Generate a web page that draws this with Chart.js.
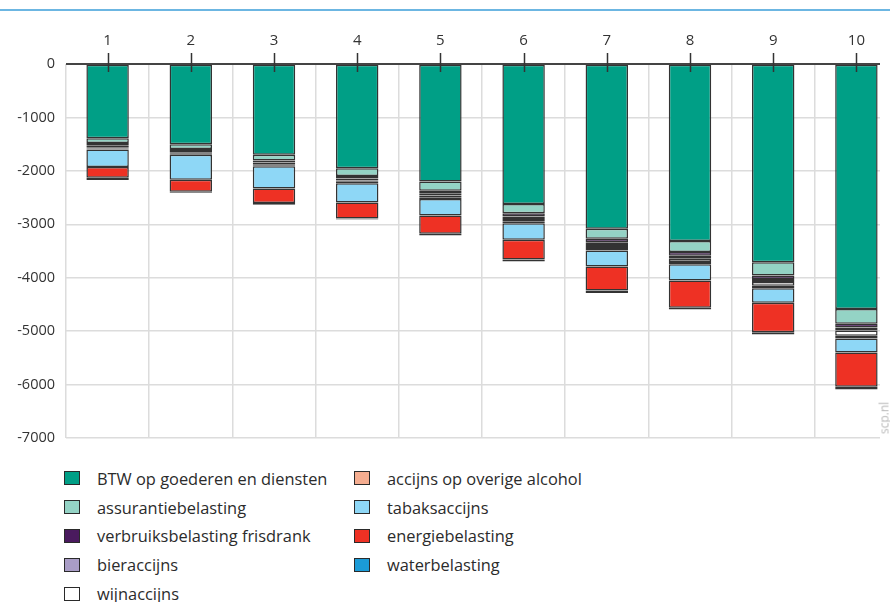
<!DOCTYPE html>
<html>
<head>
<meta charset="utf-8">
<script src="https://cdn.jsdelivr.net/npm/chart.js@4"></script>
<style>
  html, body { margin: 0; padding: 0; background: #fff; overflow: hidden; }
  #wrap { position: relative; width: 890px; height: 602px; overflow: hidden; }
  #topline { position: absolute; left: 0; top: 9px; width: 890px; height: 2px; background: #6cb6e2; }
  #plot { position: absolute; left: 0; top: 0; width: 880px; height: 460px; overflow: hidden; }
  #chart { position: absolute; left: 0; top: 0; }
  #source {
    position: absolute; left: 884px; top: 418px;
    transform: translate(-50%, -50%) rotate(-90deg);
    font: 12px 'Open Sans', sans-serif; color: #b8b8b8; white-space: nowrap;
  }
  #legend {
    position: absolute; left: 64px; top: 464px;
    display: grid; grid-template-rows: repeat(5, 28.8px); grid-auto-flow: column;
    grid-template-columns: 290px auto;
    font-family: 'Open Sans', sans-serif; font-size: 16.4px; color: #2b2b2b;
  }
  .item { display: flex; align-items: center; }
  .box { width: 16px; height: 14px; border: 1.5px solid #2a2a2a; margin-right: 17px; box-sizing: border-box; }
</style>
</head>
<body>
<div id="wrap">
  <div id="topline"></div>
  <div id="plot"><canvas id="chart" width="900" height="460"></canvas></div>
  <div id="source">scp.nl</div>
  <div id="legend"></div>
</div>
<script>
const categories = ['1', '2', '3', '4', '5', '6', '7', '8', '9', '10'];
const btw        = [-1390, -1500, -1700, -1950, -2200, -2620, -3085, -3315, -3710, -4585];
const assurantie = [-90, -90, -105, -145, -170, -175, -185, -205, -250, -275];
const frisdrank  = [-50, -40, -40, -50, -50, -60, -65, -70, -65, -70];
const bier       = [-30, -30, -30, -35, -40, -45, -55, -55, -55, -60];
const wijn       = [-20, -20, -20, -25, -35, -45, -55, -60, -70, -95];
const alcohol    = [-20, -20, -20, -25, -30, -35, -45, -45, -45, -55];
const tabak      = [-330, -465, -415, -360, -310, -310, -300, -300, -275, -260];
const energie    = [-200, -225, -270, -300, -340, -370, -450, -510, -550, -640];
const water      = [-40, -20, -35, -20, -35, -35, -45, -35, -45, -50];

const series = [
  ['BTW op goederen en diensten', btw, '#009f86'],
  ['assurantiebelasting', assurantie, '#94d3c5'],
  ['verbruiksbelasting frisdrank', frisdrank, '#4a1a5e'],
  ['bieraccijns', bier, '#a99dc6'],
  ['wijnaccijns', wijn, '#ffffff'],
  ['accijns op overige alcohol', alcohol, '#f5ad90'],
  ['tabaksaccijns', tabak, '#8ed7f6'],
  ['energiebelasting', energie, '#ee3124'],
  ['waterbelasting', water, '#1b9bd7']
];

const FONT = "'Open Sans', sans-serif";

// zero line and the tick marks at the bar centres, drawn over the bars
const extras = {
  id: 'extras',
  afterDatasetsDraw(chart) {
    const ctx = chart.ctx;
    const x = chart.scales.x, y = chart.scales.y;
    const y0 = y.getPixelForValue(0);
    ctx.save();
    ctx.strokeStyle = '#444';
    ctx.lineWidth = 2;
    ctx.beginPath();
    ctx.moveTo(chart.chartArea.left, y0);
    ctx.lineTo(chart.chartArea.right, y0);
    ctx.stroke();
    ctx.lineWidth = 1.5;
    ctx.strokeStyle = '#333';
    categories.forEach((c, i) => {
      const px = Math.round(x.getPixelForValue(i)) + 0.5;
      ctx.beginPath();
      ctx.moveTo(px, y0 - 11);
      ctx.lineTo(px, y0 + 8);
      ctx.stroke();
    });
    ctx.restore();
  }
};

new Chart(document.getElementById('chart'), {
  type: 'bar',
  data: {
    labels: categories,
    datasets: series.map(s => ({
      label: s[0],
      data: s[1],
      backgroundColor: s[2],
      borderColor: '#333',
      borderWidth: 1.5,
      borderSkipped: false,
      categoryPercentage: 1,
      barPercentage: 0.51
    }))
  },
  options: {
    responsive: false,
    animation: false,
    layout: { padding: { left: 0, right: 2, top: 18, bottom: 22 } },
    plugins: { legend: { display: false }, tooltip: { enabled: true } },
    scales: {
      x: {
        position: 'top',
        stacked: true,
        grid: { offset: true, color: '#dcdcdc', lineWidth: 1.5, drawTicks: false },
        border: { display: false },
        ticks: { color: '#333', font: { family: FONT, size: 15 }, padding: 14 }
      },
      y: {
        stacked: true,
        min: -7000,
        max: 0,
        afterFit(scale) { scale.width = 66; },
        grid: { color: '#dcdcdc', lineWidth: 1.5, drawTicks: false },
        border: { display: false },
        ticks: {
          stepSize: 1000,
          color: '#333',
          font: { family: FONT, size: 14.5 },
          padding: 11,
          callback: v => String(v)
        }
      }
    }
  },
  plugins: [extras]
});

const legend = document.getElementById('legend');
series.forEach(s => {
  const item = document.createElement('div');
  item.className = 'item';
  const box = document.createElement('span');
  box.className = 'box';
  box.style.background = s[2];
  const txt = document.createElement('span');
  txt.textContent = s[0];
  item.appendChild(box);
  item.appendChild(txt);
  legend.appendChild(item);
});
</script>
</body>
</html>
